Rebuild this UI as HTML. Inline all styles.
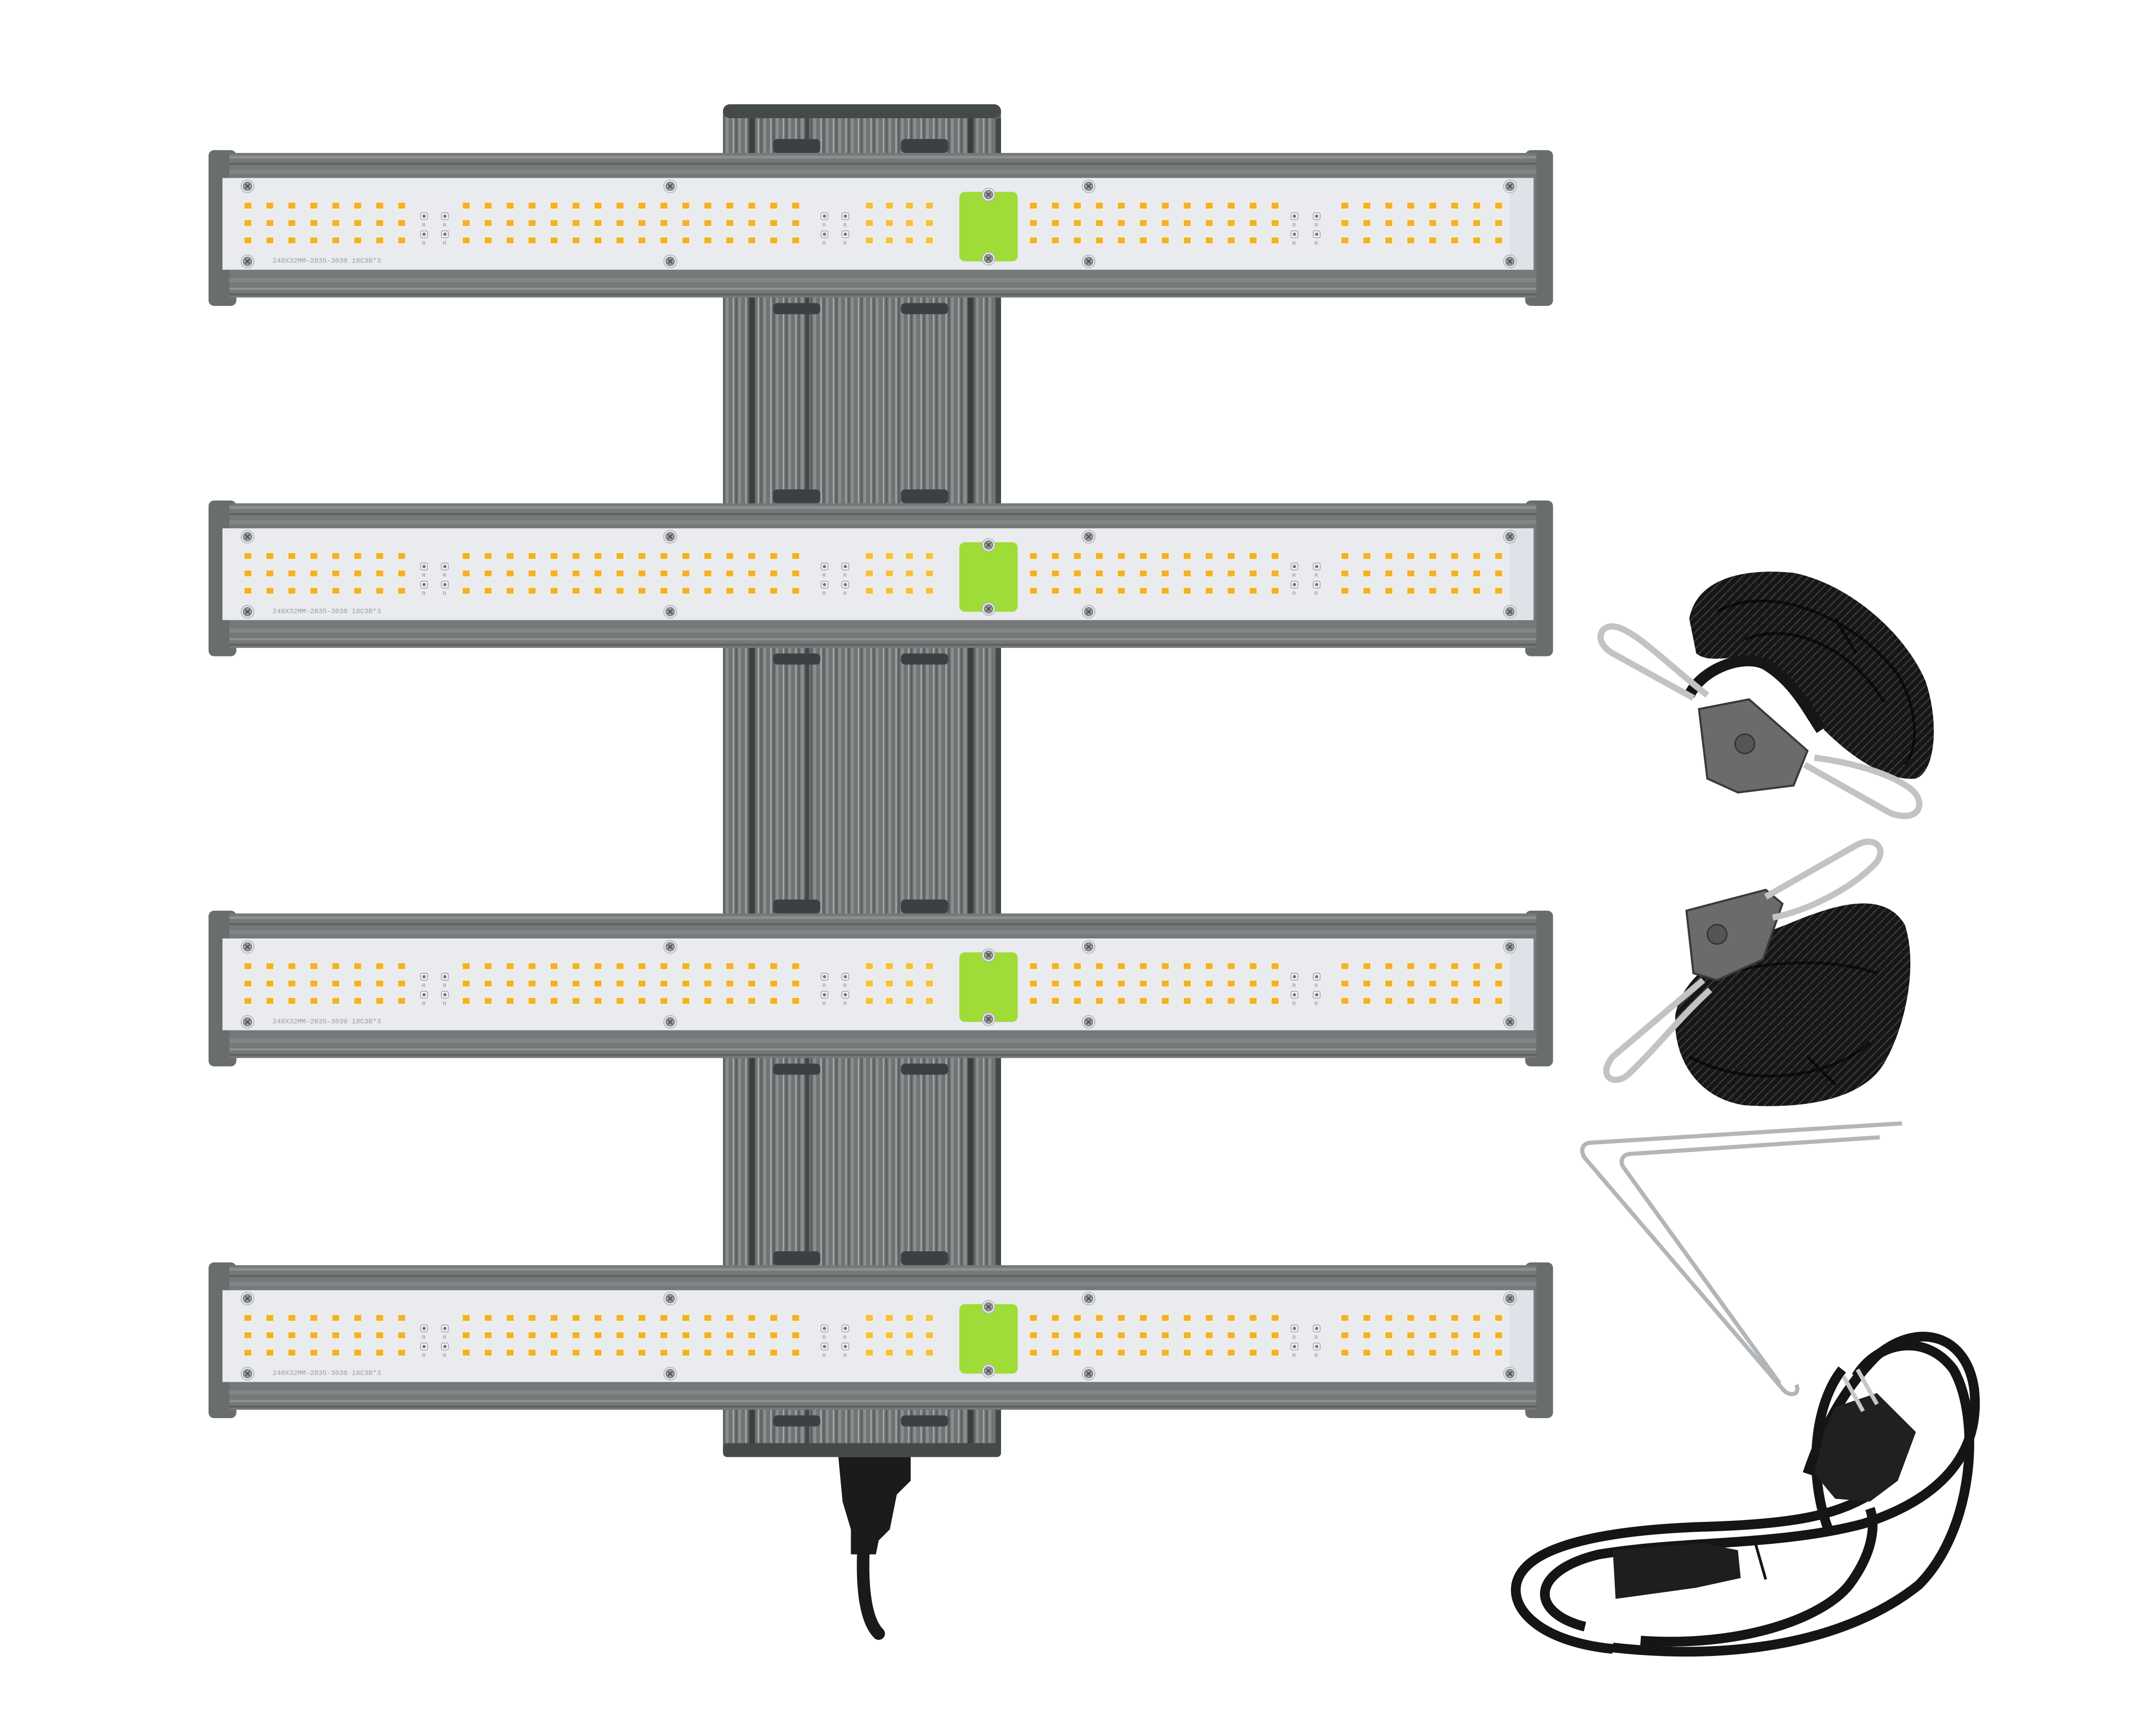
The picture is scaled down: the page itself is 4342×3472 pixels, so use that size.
<!DOCTYPE html>
<html><head><meta charset="utf-8">
<style>html,body{margin:0;padding:0;background:#fff;}svg{display:block;}</style>
</head><body>
<svg width="4342" height="3472" viewBox="0 0 1550.7 1240" preserveAspectRatio="none" xmlns="http://www.w3.org/2000/svg">
<defs>
  <pattern id="led" patternUnits="userSpaceOnUse" width="15.8" height="12.5">
    <rect x="0" y="0" width="6.6" height="5.8" fill="#fbf0d0"/>
    <rect x="0.8" y="0.8" width="5" height="4.2" fill="#f0b12e"/>
  </pattern>
  <pattern id="led2" patternUnits="userSpaceOnUse" width="14.4" height="12.5">
    <rect x="0" y="0" width="6.6" height="5.8" fill="#fbf0d0"/>
    <rect x="0.8" y="0.8" width="5" height="4.2" fill="#f3c040"/>
  </pattern>
  <pattern id="ridge" patternUnits="userSpaceOnUse" width="9" height="10">
    <rect width="9" height="10" fill="#707474"/>
    <rect x="0" width="2" height="10" fill="#8a8e8e"/>
    <rect x="5" width="1" height="10" fill="#a6aaaa"/>
    <rect x="7" width="1.2" height="10" fill="#5a5e5e"/>
  </pattern>
  <pattern id="rope" patternUnits="userSpaceOnUse" width="6" height="6">
    <rect width="6" height="6" fill="#161616"/>
    <path d="M0 6 L6 0" stroke="#3a3a3a" stroke-width="1"/>
  </pattern>
  <g id="screw">
    <circle r="4.6" fill="#e6e8ea" stroke="#b0b3b6" stroke-width="0.6"/>
    <circle r="3" fill="#9a9c9e" stroke="#666" stroke-width="0.5"/>
    <path d="M-1.6 -1.6 L1.6 1.6 M1.6 -1.6 L-1.6 1.6" stroke="#444" stroke-width="0.7"/>
  </g>
  <g id="comp">
    <rect x="-2.5" y="0" width="5" height="5" rx="1.2" fill="#f4f4f6" stroke="#9a9a9a" stroke-width="0.5"/>
    <circle cx="0" cy="2.5" r="1.2" fill="#777"/>
    <text x="-1.5" y="10" font-family="Liberation Sans, sans-serif" font-size="3.5" fill="#888">R</text>
  </g>
  <g id="bar">
    <rect x="150" y="0" width="20" height="112" rx="4" fill="#6a6d6d"/>
    <rect x="1097" y="0" width="20" height="112" rx="4" fill="#6a6d6d"/>
    <rect x="165" y="2" width="940" height="104" fill="#767979"/>
    <rect x="165" y="4" width="940" height="2" fill="#8c8f8f"/>
    <rect x="165" y="9" width="940" height="1.5" fill="#5f6262"/>
    <rect x="165" y="14" width="940" height="3" fill="#838686"/>
    <rect x="165" y="92" width="940" height="3" fill="#838686"/>
    <rect x="165" y="99" width="940" height="1.5" fill="#909393"/>
    <rect x="165" y="103" width="940" height="1.5" fill="#5f6262"/>
    <rect x="160" y="20" width="943" height="66" fill="#e9ebef"/>
    <rect x="1086" y="20" width="17" height="66" fill="#dfe2e8"/>
    <g transform="translate(175,37)"><rect width="117" height="37.5" fill="url(#led)"/></g>
    <g transform="translate(332,37)"><rect width="252" height="37.5" fill="url(#led)"/></g>
    <g transform="translate(622,37)"><rect width="50" height="37.5" fill="url(#led2)"/></g>
    <g transform="translate(740,37)"><rect width="188" height="37.5" fill="url(#led)"/></g>
    <g transform="translate(964,37)"><rect width="124" height="37.5" fill="url(#led)"/></g>
    <use href="#comp" x="305" y="45"/><use href="#comp" x="320" y="45"/>
    <use href="#comp" x="305" y="58"/><use href="#comp" x="320" y="58"/>
    <use href="#comp" x="593" y="45"/><use href="#comp" x="608" y="45"/>
    <use href="#comp" x="593" y="58"/><use href="#comp" x="608" y="58"/>
    <use href="#comp" x="931" y="45"/><use href="#comp" x="947" y="45"/>
    <use href="#comp" x="931" y="58"/><use href="#comp" x="947" y="58"/>
    <text x="196" y="81" font-family="Liberation Mono, monospace" font-size="5" fill="#9a9ca0">248X32MM-2835-3030 18C3B*3</text>
    <rect x="690" y="30" width="42" height="50" rx="4" fill="#9fdc37"/>
    <use href="#screw" x="711" y="32"/>
    <use href="#screw" x="711" y="78"/>
    <use href="#screw" x="178" y="26"/><use href="#screw" x="178" y="80"/>
    <use href="#screw" x="482" y="26"/><use href="#screw" x="482" y="80"/>
    <use href="#screw" x="783" y="26"/><use href="#screw" x="783" y="80"/>
    <use href="#screw" x="1086" y="26"/><use href="#screw" x="1086" y="80"/>
  </g>
</defs>

<!-- spine -->
<rect x="520" y="75" width="200" height="972" rx="5" fill="url(#ridge)"/>
<rect x="520" y="75" width="200" height="10" rx="5" fill="#444a48"/>
<rect x="539" y="85" width="4" height="955" fill="#3c3f3f"/>
<rect x="579" y="85" width="3" height="955" fill="#444747"/>
<rect x="696" y="85" width="4" height="955" fill="#3c3f3f"/>
<rect x="716" y="85" width="4" height="955" fill="#454948"/>
<rect x="520" y="1038" width="200" height="10" rx="3" fill="#454a48"/>
<g fill="#3c4042">
  <rect x="556" y="100" width="34" height="10" rx="3"/><rect x="648" y="100" width="34" height="10" rx="3"/>
  <rect x="556" y="218" width="34" height="8" rx="3"/><rect x="648" y="218" width="34" height="8" rx="3"/>
  <rect x="556" y="352" width="34" height="10" rx="3"/><rect x="648" y="352" width="34" height="10" rx="3"/>
  <rect x="556" y="470" width="34" height="8" rx="3"/><rect x="648" y="470" width="34" height="8" rx="3"/>
  <rect x="556" y="647" width="34" height="10" rx="3"/><rect x="648" y="647" width="34" height="10" rx="3"/>
  <rect x="556" y="765" width="34" height="8" rx="3"/><rect x="648" y="765" width="34" height="8" rx="3"/>
  <rect x="556" y="900" width="34" height="10" rx="3"/><rect x="648" y="900" width="34" height="10" rx="3"/>
  <rect x="556" y="1018" width="34" height="8" rx="3"/><rect x="648" y="1018" width="34" height="8" rx="3"/>
</g>

<!-- bars -->
<use href="#bar" x="0" y="108"/>
<use href="#bar" x="0" y="360"/>
<use href="#bar" x="0" y="655"/>
<use href="#bar" x="0" y="908"/>

<!-- power cable from spine -->
<path d="M603 1048 L655 1048 L655 1065 L645 1075 L640 1100 L632 1108 L630 1118 L612 1118 L612 1100 L606 1080 Z" fill="#1b1b1b"/>
<path d="M621 1115 C620 1140 622 1165 632 1175" stroke="#1a1a1a" stroke-width="9" fill="none" stroke-linecap="round"/>

<!-- rope hanger 1 -->
<path d="M1215 445 C1220 418 1250 408 1290 412 C1330 420 1370 455 1385 490 C1395 520 1392 555 1378 560 C1360 562 1335 548 1312 525 C1298 505 1290 485 1265 475 C1245 470 1230 478 1220 470 Z" fill="url(#rope)"/>
<g fill="none" stroke="#000" stroke-width="2" opacity="0.6">
  <path d="M1235 440 C1270 420 1330 440 1365 485 C1380 510 1380 540 1370 550"/>
  <path d="M1255 460 C1290 445 1335 470 1355 505"/>
  <path d="M1320 445 L1335 470"/>
</g>
<path d="M1215 500 C1225 480 1255 470 1270 478 C1290 490 1300 510 1310 525" stroke="#161616" stroke-width="8" fill="none"/>
<path d="M1222 510 L1258 503 L1300 540 L1290 565 L1250 570 L1228 560 Z" fill="#6a6b6b" stroke="#3a3a3a" stroke-width="1.5"/>
<circle cx="1255" cy="535" r="7" fill="#555" stroke="#333"/>
<g fill="none" stroke="#c0c4c7" stroke-width="4.5">
  <path d="M1218 502 L1160 470 C1146 462 1150 448 1163 451 C1178 455 1202 480 1228 500"/>
  <path d="M1298 550 L1360 585 C1380 592 1386 578 1375 568 C1360 556 1330 548 1305 545"/>
</g>

<!-- rope hanger 2 -->
<path d="M1205 730 C1210 700 1245 680 1285 665 C1320 650 1355 640 1370 665 C1380 695 1370 740 1355 765 C1340 790 1300 798 1255 795 C1220 790 1203 760 1205 730 Z" fill="url(#rope)"/>
<g fill="none" stroke="#000" stroke-width="2" opacity="0.6">
  <path d="M1215 760 C1250 780 1310 780 1345 750"/>
  <path d="M1240 700 C1280 690 1320 690 1350 700"/>
  <path d="M1300 760 L1320 780"/>
</g>
<path d="M1213 655 L1270 640 L1282 650 L1268 690 L1235 705 L1218 700 Z" fill="#6a6b6b" stroke="#3a3a3a" stroke-width="1.5"/>
<circle cx="1235" cy="672" r="7" fill="#555" stroke="#333"/>
<g fill="none" stroke="#c0c4c7" stroke-width="4.5">
  <path d="M1270 645 L1335 608 C1350 600 1358 612 1348 622 C1330 640 1300 655 1275 660"/>
  <path d="M1225 705 L1160 760 C1148 775 1162 782 1172 772 C1190 755 1210 730 1230 712"/>
</g>

<!-- wire hanger -->
<g fill="none" stroke="#b3b6b9" stroke-width="3">
  <path d="M1368 808 L1143 822 C1137 823 1137 829 1140 833 L1283 1000 C1288 1005 1295 1003 1292 996"/>
  <path d="M1352 818 L1172 830 C1166 831 1165 836 1168 840 L1280 995"/>
</g>

<!-- power cord -->
<g fill="none" stroke="#151515" stroke-width="7">
  <path d="M1160 1186 C1100 1180 1080 1150 1095 1130 C1110 1110 1160 1100 1230 1098 C1290 1096 1320 1090 1345 1075"/>
  <path d="M1140 1170 C1100 1160 1100 1130 1150 1118 C1210 1108 1280 1112 1340 1096 C1390 1080 1425 1050 1420 1000 C1415 960 1380 950 1350 975 C1325 1000 1310 1030 1300 1060"/>
  <path d="M1160 1185 C1250 1195 1330 1180 1380 1140 C1420 1100 1425 1020 1405 985 C1385 958 1350 965 1335 990"/>
  <path d="M1180 1180 C1250 1185 1310 1165 1330 1140 C1345 1120 1350 1100 1345 1085"/>
  <path d="M1315 1100 C1300 1060 1305 1010 1325 985"/>
</g>
<path d="M1262 1108 L1270 1136" stroke="#151515" stroke-width="2"/>
<path d="M1160 1115 L1225 1110 L1250 1115 L1252 1135 L1220 1142 L1162 1150 Z" fill="#1e1e1e"/>
<path d="M1320 1012 L1350 1002 L1378 1030 L1365 1065 L1345 1080 L1320 1078 L1305 1060 L1312 1030 Z" fill="#202020"/>
<path d="M1326 990 L1340 1015 M1336 985 L1350 1010" stroke="#c8c8c8" stroke-width="3"/>
</svg>
</body></html>
